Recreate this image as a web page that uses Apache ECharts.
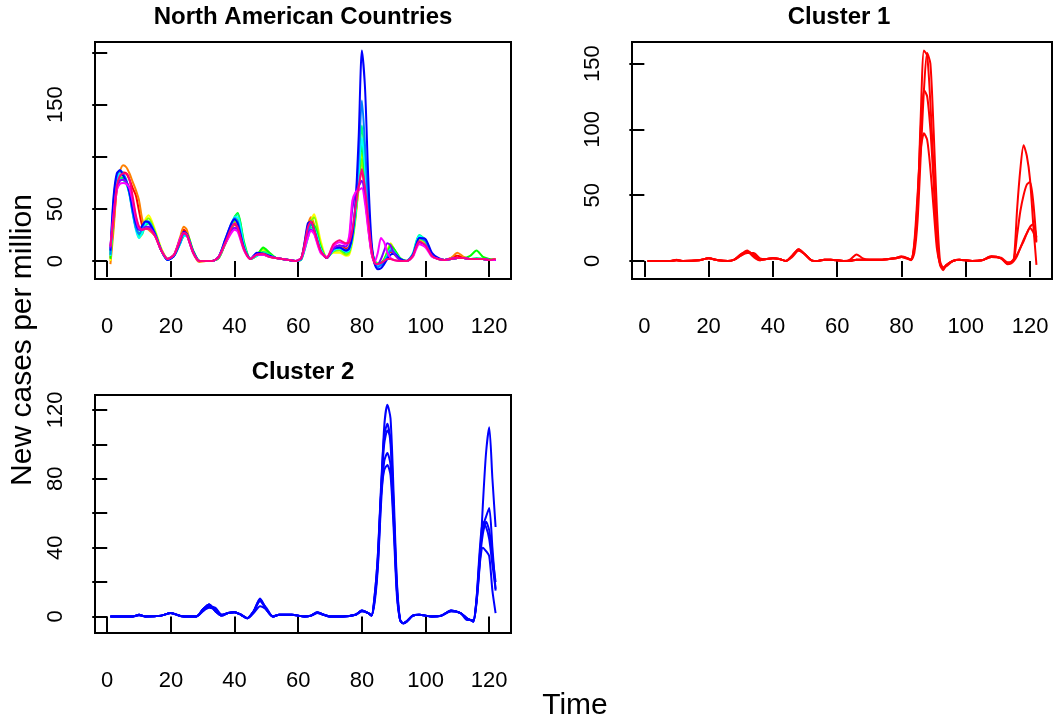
<!DOCTYPE html>
<html><head><meta charset="utf-8">
<script src="https://cdn.jsdelivr.net/npm/echarts@6/dist/echarts.min.js"></script>
<style>html,body{margin:0;padding:0;background:#fff}#c{width:1056px;height:721px}</style>
</head><body><div id="c"></div>
<script>
// ---- data ----
const xTicks = [0, 20, 40, 60, 80, 100, 120];
const p1TickVals = [0, 50, 100, 150, 200];
const p1LabelVals = [0, 50, 150];
const p2TickVals = [0, 50, 100, 150];
const p3TickVals = [0, 20, 40, 60, 80, 100, 120];
const p3LabelVals = [0, 40, 80, 120];

const titles = ['North American Countries', 'Cluster 1', 'Cluster 2'];
const xTitle = 'Time';
const yTitle = 'New cases per million';

// time points sampled for the North American panel
const X1 = [1,2,3,4,5,6,7,8,9,10,11,12,13, 15,17,19,21,23, 24,25, 27,29,31,33,35,37,39, 40,41, 43,45,47,49,51,53,55,57,59,61,63, 64,65, 67,69,71,73,75, 76,77,78,79,80,81,82,83,84,85,86,87,88,89,90, 92,94,96,97,98, 100,102,104,106,108,110,112,114,116,118,120,122];

const naRed = [3,36,68,80,85,84,78,70,63,48,34,31,32, 25,11,2,6,22, 30,27, 8,0,0,0,3,16,30, 35,32, 12,2,6,7,4,3,2,1,0,3,32, 40,33, 10,3,12,15,12, 14,24,45,70,88,62,32,8,-2,-3,-2,1,6,9,7, 1,0,5,13,18, 16,5,2,1,3,5,3,2,2,2,1,2];
const naOrange = [-3,30,70,86,92,90,84,76,68,58,40,32,30, 24,10,1,6,24, 33,30, 8,-1,0,0,3,17,33, 38,34, 12,2,6,6,4,3,2,1,0,3,34, 42,35, 10,3,12,14,10, 13,24,48,78,96,68,36,10,0,-3,-2,2,8,11,7, 1,0,5,14,20, 17,6,2,1,3,8,4,2,2,2,1,2];
const naYellow = [0,48,74,80,80,76,66,48,32,22,26,40,44, 30,12,2,5,18, 26,25, 9,0,0,0,3,16,30, 38,40, 14,2,5,10,5,3,2,1,0,2,24, 38,45, 20,3,8,8,5, 6,18,40,72,104,75,40,12,0,-2,-3,0,10,17,12, 2,0,5,13,20, 17,5,2,1,2,3,3,2,2,2,1,1];
const naChartreuse = [6,46,74,80,79,76,66,50,34,25,28,38,41, 28,11,2,6,20, 27,26, 10,0,0,0,3,17,31, 39,40, 14,2,6,12,6,3,2,1,0,2,26, 38,42, 16,3,9,10,6, 8,20,42,74,98,72,38,11,0,-2,-2,1,9,16,12, 2,0,5,14,21, 18,5,2,1,2,3,3,2,2,2,1,1];
const naGreen = [2,44,74,80,80,76,68,52,35,26,28,35,37, 27,10,2,5,18, 24,26, 10,0,0,0,3,16,30, 42,46, 18,2,5,13,8,3,2,1,0,2,24, 34,34, 14,3,10,12,8, 10,22,45,80,112,80,42,12,0,-3,-2,1,8,14,12, 3,0,6,16,24, 20,6,2,1,2,3,3,5,10,4,2,1];
const naSpring = [8,46,76,80,78,74,64,48,32,24,26,34,36, 26,10,2,5,18, 24,24, 9,0,0,0,3,17,32, 42,45, 16,2,5,9,6,3,2,1,0,2,22, 32,32, 12,3,10,13,9, 10,24,50,90,130,95,50,14,0,-3,-3,0,6,12,10, 2,0,7,18,25, 20,6,2,1,2,3,3,2,3,2,1,1];
const naCyan = [5,50,78,84,82,76,64,46,30,22,27,36,38, 26,10,1,5,17, 24,24, 9,0,0,0,4,18,34, 42,42, 14,2,5,7,5,3,2,1,0,2,22, 30,30, 12,3,10,12,9, 10,22,46,84,118,88,46,12,-1,-4,-3,0,5,11,9, 2,0,7,17,24, 20,6,2,1,2,3,3,2,2,2,1,1];
const naAzure = [6,58,82,87,84,78,64,46,32,26,32,38,38, 26,10,1,5,18, 26,25, 9,0,0,0,4,20,36, 41,38, 12,2,6,7,5,3,2,1,0,2,26, 36,30, 10,3,11,13,10, 12,26,55,100,154,110,55,14,-2,-6,-4,-1,4,10,9, 2,0,6,15,22, 19,6,2,1,2,3,3,2,2,2,1,1];
const naBlue = [10,62,84,87,82,76,66,50,36,30,34,38,37, 26,10,1,5,20, 28,26, 9,0,0,0,4,20,36, 40,36, 12,2,8,7,5,3,2,1,0,3,36, 38,30, 10,3,12,13,10, 12,24,55,120,202,165,80,20,-3,-8,-7,-3,2,6,7, 2,0,6,15,22, 21,8,3,1,2,3,3,2,2,2,1,1];
const naViolet = [12,45,70,77,78,76,70,56,40,30,30,33,33, 25,10,2,6,22, 27,25, 8,0,0,0,4,17,29, 32,30, 11,2,6,6,4,3,2,1,0,3,26, 30,27, 9,3,12,15,14, 20,50,65,72,77,60,35,10,-2,-3,2,10,17,15,8, 1,0,5,13,18, 15,5,2,1,2,3,3,2,2,2,1,1];
const naMagenta = [14,44,68,74,75,74,70,58,42,32,30,31,31, 24,10,2,6,22, 27,25, 8,0,0,0,4,16,27, 30,28, 10,2,6,6,4,3,2,1,0,3,22, 29,26, 8,4,14,18,16, 24,58,66,68,70,55,30,8,-1,8,22,18,8,3,1, 0,0,4,11,16, 13,4,2,1,2,3,3,2,2,2,1,1];
const naRose = [14,42,72,82,84,84,78,62,44,33,30,31,31, 24,10,2,6,20, 27,25, 8,0,0,0,4,17,32, 36,32, 11,2,6,7,4,3,2,1,0,3,32, 38,30, 10,3,16,20,17, 18,30,52,72,88,70,40,12,-2,-3,-2,0,2,2,1, 0,0,5,13,19, 15,5,2,1,2,3,3,2,2,2,1,2];

const naSeries = [naRed, naOrange, naYellow, naChartreuse, naGreen, naSpring, naCyan, naAzure, naBlue, naViolet, naMagenta, naRose];
const naColors = ['#FF0000','#FF8000','#FFFF00','#80FF00','#00FF00','#00FF80','#00FFFF','#0080FF','#0000FF','#8000FF','#FF00FF','#FF0080'];

// time points sampled for the cluster panels
const X2 = [1,8,10,12, 17,20,23, 26,28,30,32,34,36,38,40,42,44,46,48,50,52,54,56,58, 62,64,66,68,70, 74,78,80, 82,83,84,85,86,87,88,89,90,91,92,93,94, 96,98, 102,105,108,111,113, 114,115,116,117,118,119,120,121,122];

const c1a = [0,0,1,0, 0.5,2,0.5, 0,1,5,8,4,0.5,1.5,2,1.5,0,4,9,5,0.5,0,1,1, 0,0,1,1,1, 1,2,3, 2,1,10,40,110,160,156,120,70,20,-2,-6,-3, 0,1, 0,0.5,3.5,2,-2, -1,2,40,70,88,80,62,28,-3];
const c1b = [0,0,0.5,0, 0.5,2,0.5, 0,1,4,7,5,1,1.5,2,1.5,0,4,8,5,0.5,0,1,1, 0,0,1,1,1, 1,2,3.5, 2,0.5,6,30,80,130,158,150,100,40,0,-5,-4, 0,1, 0,0.5,3,2.5,-1, -1,1,20,38,50,58,60,45,15];
const c1c = [0,0,0.5,0, 0.5,2,0.5, 0,1,4,6,6,2,1.5,2,1.5,0,3,8,5,0.5,0,1,1, 0,1,5,2,1, 1,2,3, 2,1,12,45,100,130,125,100,60,15,-3,-7,-3, 0,1, 0,0.5,3.5,2,-2.5, -2,0,4,10,15,21,26,28,18];
const c1d = [0,0,0.5,0, 0.5,2,0.5, 0,1,5,7,3,0.5,1.5,2,1.5,0,4,9,5,0.5,0,1,1, 0,0,1,1,1, 1,2,3, 1.5,1,14,50,85,97,92,70,40,10,-2,-5,-3, 0,1, 0,0.5,3,2,-2, -1,1,5,10,16,21,25,22,14];

const c2a = [0,0,1,0, 0.5,2,0.3, 0,0,4,7,3,0.5,2,2.5,1,-1,3,10.5,4,0,1,1,1, 0,0.5,2.5,1,0, 0,1,3.5, 2,0.5,10,30,70,110,123,115,70,20,-2,-4,-3, 0.5,1, 0,0.5,3.5,2,-1, -2,-3,8,30,65,95,110,80,52];
const c2b = [0,0,0.5,0, 0.5,2,0.3, 0,0,3,6,5,1,2,2.5,1,-1,3,9,5,0,1,1,1, 0,0.5,2,1,0, 0,1,3, 2,0.5,12,35,75,105,112,100,60,15,-2,-4,-3, 0.5,1, 0,0.5,3,2,-1.5, -2,-2,10,35,52,58,63,40,15];
const c2c = [0,0,1,0, 0.5,2,0.3, 0,0,4,7,3,0.5,2,2.5,1,-1,2,6,4,0,1,1,1, 0,0.5,2.5,1,0, 0,1,3.5, 2,0.5,8,28,65,90,95,88,55,15,-2,-4,-3, 0.5,1, 0,0.5,3.5,2,-1, -2,-3,10,38,55,52,45,30,16];
const c2d = [0,0,1,0, 0.5,2,0.3, 0,0,3,5,4,1,2,2.5,1,-1,3,9,4,0,1,1,1, 0,0.5,2,1,0, 0,1,3, 2,0.5,12,35,70,85,88,82,50,12,-2,-4,-3, 0.5,1, 0,0.5,3,2,-2, -2,-3,8,30,40,38,35,15,2];
const c2e = [0,0,1,0, 0.5,2,0.3, 0,0,4,7,3,0.5,2,2.5,1,-1,3,10,4,0,1,1,1, 0,0.5,2.5,1,0, 0,1,3.5, 2,0.5,10,32,72,100,108,104,62,18,-2,-4,-3, 0.5,1, 0,0.5,3.5,2,-1, -2,-2,9,32,48,55,50,35,20];

const cluster1 = [c1a, c1b, c1c, c1d];
const cluster2 = [c2a, c2b, c2c, c2d, c2e];

// ---- chart ----
const FONT = '"Liberation Sans", Arial, Helvetica, sans-serif';
const chart = echarts.init(document.getElementById('c'), null, {renderer: 'canvas'});

const gridBase = {show: true, borderColor: '#000', borderWidth: 2, backgroundColor: 'transparent', containLabel: false};
const grids = [
  Object.assign({left: 95, top: 42, width: 416, height: 237}, gridBase),
  Object.assign({left: 632, top: 42, width: 420, height: 237}, gridBase),
  Object.assign({left: 95, top: 395, width: 416, height: 238}, gridBase)
];

function xAxis(gi) {
  return {
    type: 'value', gridIndex: gi, min: -3.84, max: 126.84,
    axisLine: {show: false}, splitLine: {show: false},
    axisTick: {show: true, length: 16, lineStyle: {color: '#000', width: 2}, customValues: xTicks},
    axisLabel: {customValues: xTicks, fontSize: 22, color: '#000', fontFamily: FONT, margin: 37}
  };
}
function yAxis(gi, min, max, ticks, labels) {
  return {
    type: 'value', gridIndex: gi, min: min, max: max,
    axisLine: {show: false}, splitLine: {show: false},
    axisTick: {show: true, length: 15, lineStyle: {color: '#000', width: 2}, customValues: ticks},
    axisLabel: {customValues: labels, fontSize: 22, color: '#000', fontFamily: FONT, rotate: 90, margin: 28}
  };
}

const series = [];
naSeries.forEach((arr, i) => {
  series.push({type: 'line', xAxisIndex: 0, yAxisIndex: 0, symbol: 'none', smooth: 0.25,
    lineStyle: {width: 2, color: naColors[i]}, data: X1.map((x, k) => [x, arr[k]])});
});
cluster1.forEach(arr => {
  series.push({type: 'line', xAxisIndex: 1, yAxisIndex: 1, symbol: 'none', smooth: 0.25,
    lineStyle: {width: 2, color: '#FF0000'}, data: X2.map((x, k) => [x, arr[k]])});
});
cluster2.forEach(arr => {
  series.push({type: 'line', xAxisIndex: 2, yAxisIndex: 2, symbol: 'none', smooth: 0.25,
    lineStyle: {width: 2, color: '#0000FF'}, data: X2.map((x, k) => [x, arr[k]])});
});

const titleFont = 'bold 24px ' + FONT;
chart.setOption({
  animation: false,
  backgroundColor: '#fff',
  grid: grids,
  xAxis: [xAxis(0), xAxis(1), xAxis(2)],
  yAxis: [
    yAxis(0, -17.25, 210.2, p1TickVals, p1LabelVals),
    yAxis(1, -13.7, 166.4, p2TickVals, p2TickVals),
    yAxis(2, -9.6, 128.7, p3TickVals, p3LabelVals)
  ],
  series: series,
  graphic: [
    {type: 'text', x: 303, y: 17, style: {text: titles[0], font: titleFont, fill: '#000', align: 'center', verticalAlign: 'middle'}},
    {type: 'text', x: 839, y: 17, style: {text: titles[1], font: titleFont, fill: '#000', align: 'center', verticalAlign: 'middle'}},
    {type: 'text', x: 303, y: 372, style: {text: titles[2], font: titleFont, fill: '#000', align: 'center', verticalAlign: 'middle'}},
    {type: 'text', x: 575, y: 706, style: {text: xTitle, font: '30px ' + FONT, fill: '#000', align: 'center', verticalAlign: 'middle'}},
    {type: 'text', x: 23, y: 340, rotation: Math.PI / 2, style: {text: yTitle, font: '30px ' + FONT, fill: '#000', align: 'center', verticalAlign: 'middle'}}
  ]
});
</script>
</body></html>
